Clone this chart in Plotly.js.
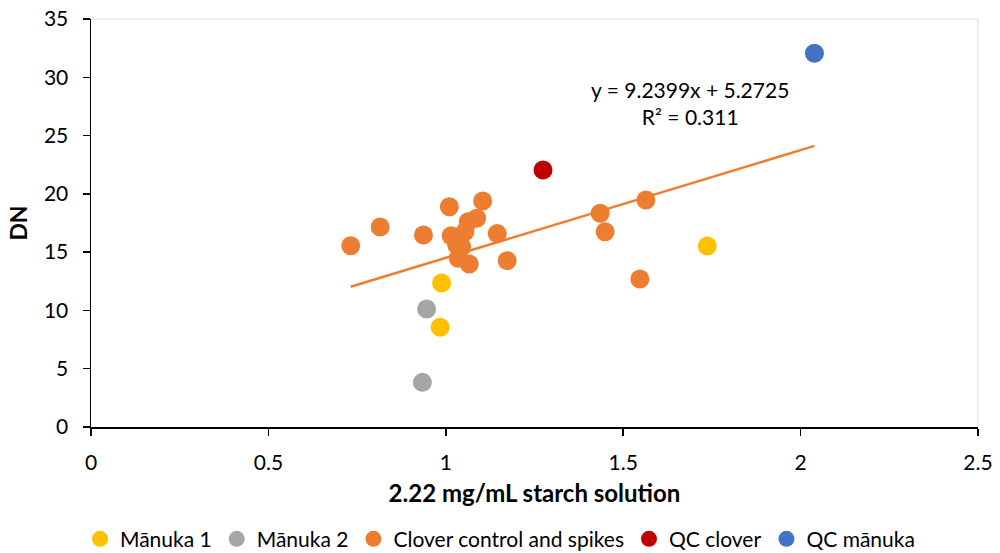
<!DOCTYPE html>
<html>
<head>
<meta charset="utf-8">
<script src="https://cdn.plot.ly/plotly-3.0.1.min.js"></script>
<style>
  html, body { margin: 0; padding: 0; background: #fff; }
  #chart { width: 1000px; height: 553px; }
</style>
</head>
<body>
<div id="chart"></div>
<script>
// ---- Data ----
const manuka1X = [0.988, 0.984, 1.737];
const manuka1Y = [12.35, 8.55, 15.53];

const manuka2X = [0.946, 0.934];
const manuka2Y = [10.12, 3.83];

const cloverX = [0.732, 0.815, 0.937, 1.010, 1.104, 1.063, 1.087, 1.145, 1.015, 1.054,
                 1.031, 1.045, 1.035, 1.066, 1.173, 1.435, 1.449, 1.564, 1.547];
const cloverY = [15.55, 17.16, 16.47, 18.90, 19.39, 17.60, 17.90, 16.60, 16.40, 16.75,
                 15.60, 15.47, 14.47, 13.98, 14.27, 18.33, 16.75, 19.47, 12.70];

const qcCloverX = [1.274];
const qcCloverY = [22.05];

const qcManukaX = [2.039];
const qcManukaY = [32.06];

// Linear trendline shown on the chart
const trendSlope = 9.2399;
const trendIntercept = 5.2725;
const trendR2 = 0.311;
const trendX = [0.732, 2.039];
const trendY = trendX.map(x => trendSlope * x + trendIntercept);

const seriesNames = ["Mānuka 1", "Mānuka 2", "Clover control and spikes", "QC clover", "QC mānuka"];
const xTickVals = [0, 0.5, 1, 1.5, 2, 2.5];
const xTickText = ["0", "0.5", "1", "1.5", "2", "2.5"];
const yTickVals = [0, 5, 10, 15, 20, 25, 30, 35];

const FONT = "Lato, 'Open Sans', sans-serif";
const MS = 19;
const FS = 21;

function pts(name, x, y, color) {
  return {
    type: "scatter", mode: "markers", name: name, x: x, y: y,
    marker: { color: color, size: MS, line: { width: 0 } },
    hoverinfo: "x+y+name"
  };
}

const traces = [
  {
    type: "scatter", mode: "lines", x: trendX, y: trendY,
    line: { color: "#ED7D31", width: 2.5 }, showlegend: false, hoverinfo: "skip"
  },
  pts(seriesNames[0], manuka1X, manuka1Y, "#FFC000"),
  pts(seriesNames[1], manuka2X, manuka2Y, "#A5A5A5"),
  pts(seriesNames[2], cloverX, cloverY, "#ED7D31"),
  pts(seriesNames[3], qcCloverX, qcCloverY, "#C00000"),
  pts(seriesNames[4], qcManukaX, qcManukaY, "#4472C4")
];

const layout = {
  width: 1000, height: 553,
  margin: { l: 91, r: 22, t: 19, b: 126 },
  paper_bgcolor: "#fff", plot_bgcolor: "#fff",
  font: { family: FONT, size: FS, color: "#000" },
  showlegend: true,
  legend: {
    orientation: "h", x: 0.5, xanchor: "center", xref: "container",
    y: 0.025, yanchor: "middle", yref: "container",
    font: { family: FONT, size: FS, color: "#000" },
    itemwidth: 30, traceorder: "normal"
  },
  xaxis: {
    range: [0, 2.5], tickvals: xTickVals, ticktext: xTickText,
    showgrid: false, zeroline: false,
    showline: true, linecolor: "#000", linewidth: 1.5,
    ticks: "outside", ticklen: 7, tickcolor: "#000", tickwidth: 1.5,
    ticklabelstandoff: 9,
    tickfont: { family: FONT, size: FS, color: "#000" },
    title: { text: "<b>2.22 mg/mL starch solution</b>", font: { family: FONT, size: 24, color: "#000" }, standoff: 12 }
  },
  yaxis: {
    range: [0, 35], tickvals: yTickVals,
    showgrid: false, zeroline: false,
    showline: true, linecolor: "#000", linewidth: 1.5,
    ticks: "outside", ticklen: 7, tickcolor: "#000", tickwidth: 1.5,
    ticklabelstandoff: 10,
    tickfont: { family: FONT, size: FS, color: "#000" },
    title: { text: "<b>DN</b>", font: { family: FONT, size: 23, color: "#000" }, standoff: 10 }
  },
  shapes: [
    { type: "line", xref: "paper", yref: "paper", x0: 0, x1: 1, y0: 1, y1: 1, line: { color: "#D9D9D9", width: 1 } },
    { type: "line", xref: "paper", yref: "paper", x0: 1, x1: 1, y0: 0, y1: 1, line: { color: "#D9D9D9", width: 1 } }
  ],
  annotations: [
    {
      xref: "paper", yref: "paper", x: 0.675, y: 0.793, xanchor: "center", yanchor: "middle",
      text: "y = " + trendSlope.toFixed(4) + "x + " + trendIntercept.toFixed(4) + "<br>R² = " + trendR2.toFixed(3),
      showarrow: false, align: "center",
      font: { family: FONT, size: FS, color: "#000" }
    }
  ]
};

Plotly.newPlot("chart", traces, layout, { displayModeBar: false, staticPlot: true });
</script>
</body>
</html>
